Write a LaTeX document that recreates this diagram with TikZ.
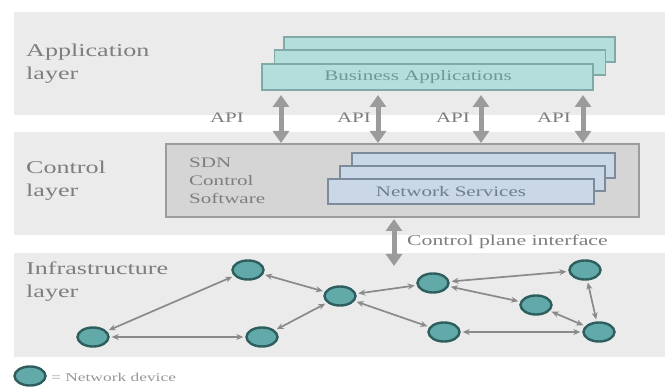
\documentclass[tikz,border=0pt]{standalone}
\usepackage{fontspec}
\setmainfont{Liberation Serif}[FakeStretch=1.45]
\usetikzlibrary{arrows.meta,shapes.geometric}
\definecolor{bandgray}{HTML}{EBEBEB}
\definecolor{sdnfill}{HTML}{D5D5D5}
\definecolor{sdnline}{HTML}{9C9C9C}
\definecolor{bizfill}{HTML}{B4DEDB}
\definecolor{bizline}{HTML}{7FAAA7}
\definecolor{bizText}{HTML}{6E9896}
\definecolor{nsfill}{HTML}{C9D7E7}
\definecolor{nsline}{HTML}{7D8C9C}
\definecolor{nsText}{HTML}{6F7F90}
\definecolor{labText}{HTML}{7E7E7E}
\definecolor{arrGray}{HTML}{9B9B9B}
\definecolor{edgeGray}{HTML}{8A8A8A}
\definecolor{devFill}{HTML}{62AAAA}
\definecolor{devLine}{HTML}{2F5E5E}
\tikzset{
  band/.style={fill=bandgray, draw=none, minimum width=651pt, inner sep=0pt},
  layerlabel/.style={anchor=west, align=left, text=labText, inner sep=0pt,
    font=\fontsize{18}{23}\selectfont},
  bizbox/.style={rectangle, fill=bizfill, draw=bizline, line width=1.2pt,
    minimum width=331pt, minimum height=25pt, inner sep=0pt},
  nsbox/.style={rectangle, fill=nsfill, draw=nsline, line width=1.2pt,
    minimum width=265pt, minimum height=25pt, inner sep=0pt},
  sdnbox/.style={rectangle, fill=sdnfill, draw=sdnline, line width=1.2pt,
    minimum width=473pt, minimum height=73pt, inner sep=0pt},
  smalltext/.style={text=labText, inner sep=0pt, font=\fontsize{14.5}{18}\selectfont},
  fatarrow/.style={draw=arrGray, line width=5pt,
    {Triangle[width=16pt,length=12pt]}-{Triangle[width=16pt,length=12pt]}},
  device/.style={ellipse, fill=devFill, draw=devLine, line width=2.4pt,
    minimum width=31pt, minimum height=19pt, inner sep=0pt},
  netedge/.style={draw=edgeGray, line width=1.7pt, shorten <=2pt, shorten >=2pt,
    {Stealth[length=7pt,width=6pt]}-{Stealth[length=7pt,width=6pt]}}
}
\begin{document}
\begin{tikzpicture}[x=1pt,y=-1pt]
\useasboundingbox[fill=white] (0,0) rectangle (672,387);
% bands
\node[band, minimum height=103pt] (appband) at (339.5,63.5) {};
\node[band, minimum height=103pt] (ctlband) at (339.5,183.5) {};
\node[band, minimum height=104pt] (infband) at (339.5,305) {};
% layer labels
\node[layerlabel] (applab) at (26,63.5) {Application\\layer};
\node[layerlabel] (ctllab) at (26,181) {Control\\layer};
\node[layerlabel] (inflab) at (26,281.5) {Infrastructure\\layer};
% business applications
\node[bizbox] (ba3) at (449.5,49.5) {};
\node[bizbox] (ba2) at (440,62.5) {};
\node[bizbox, minimum height=26pt] (ba1) at (427.5,77) {};
\node[text=bizText, inner sep=0pt, font=\fontsize{14.5}{18}\selectfont] (batxt) at (418,77) {Business Applications};
% SDN control software
\node[sdnbox] (sdn) at (402.5,180.5) {};
\node[smalltext, anchor=west, align=left] (sdntxt) at (189,181) {SDN\\Control\\Software};
\node[nsbox, minimum width=263pt] (ns3) at (483.5,165.5) {};
\node[nsbox] (ns2) at (472.5,178.5) {};
\node[nsbox, minimum width=266pt] (ns1) at (461,191.5) {};
\node[text=nsText, inner sep=0pt, font=\fontsize{14.5}{18}\selectfont] (nstxt) at (451,192) {Network Services};
% API arrows
\foreach \i/\ax/\lx in {1/281/227,2/378/354,3/481/453,4/583/554}{
  \coordinate (apitop\i) at (\ax,95);
  \coordinate (apibot\i) at (\ax,143);
  \draw[fatarrow] (apitop\i) -- (apibot\i);
  \node[smalltext] (apilab\i) at (\lx,118) {API};
}
% control plane interface
\coordinate (cpitop) at (394,219);
\coordinate (cpibot) at (394,266);
\draw[fatarrow] (cpitop) -- (cpibot);
\node[smalltext, anchor=west, font=\fontsize{15}{18}\selectfont] (cpilab) at (407,242) {Control plane interface};
% network devices
\node[device] (n1) at (248,270) {};
\node[device] (n2) at (93,337) {};
\node[device] (n3) at (262,337) {};
\node[device] (n4) at (340,296) {};
\node[device] (n5) at (433,283) {};
\node[device] (n6) at (585,270) {};
\node[device] (n7) at (536,305) {};
\node[device] (n8) at (444,332) {};
\node[device] (n9) at (599,332) {};
\draw[netedge] (n1) -- (n2);
\draw[netedge] (n2) -- (n3);
\draw[netedge] (n1) -- (n4);
\draw[netedge] (n3) -- (n4);
\draw[netedge] (n4) -- (n5);
\draw[netedge] (n4) -- (n8);
\draw[netedge] (n5) -- (n6);
\draw[netedge] (n5) -- (n7);
\draw[netedge] (n7) -- (n9);
\draw[netedge] (n6) -- (n9);
\draw[netedge] (n8) -- (n9);
% legend
\node[device] (legdev) at (30,376) {};
\node[text=labText!80, inner sep=0pt, anchor=west, font=\fontsize{12}{16}\selectfont] (legtxt) at (51,377) {= Network device};
\end{tikzpicture}
\end{document}
